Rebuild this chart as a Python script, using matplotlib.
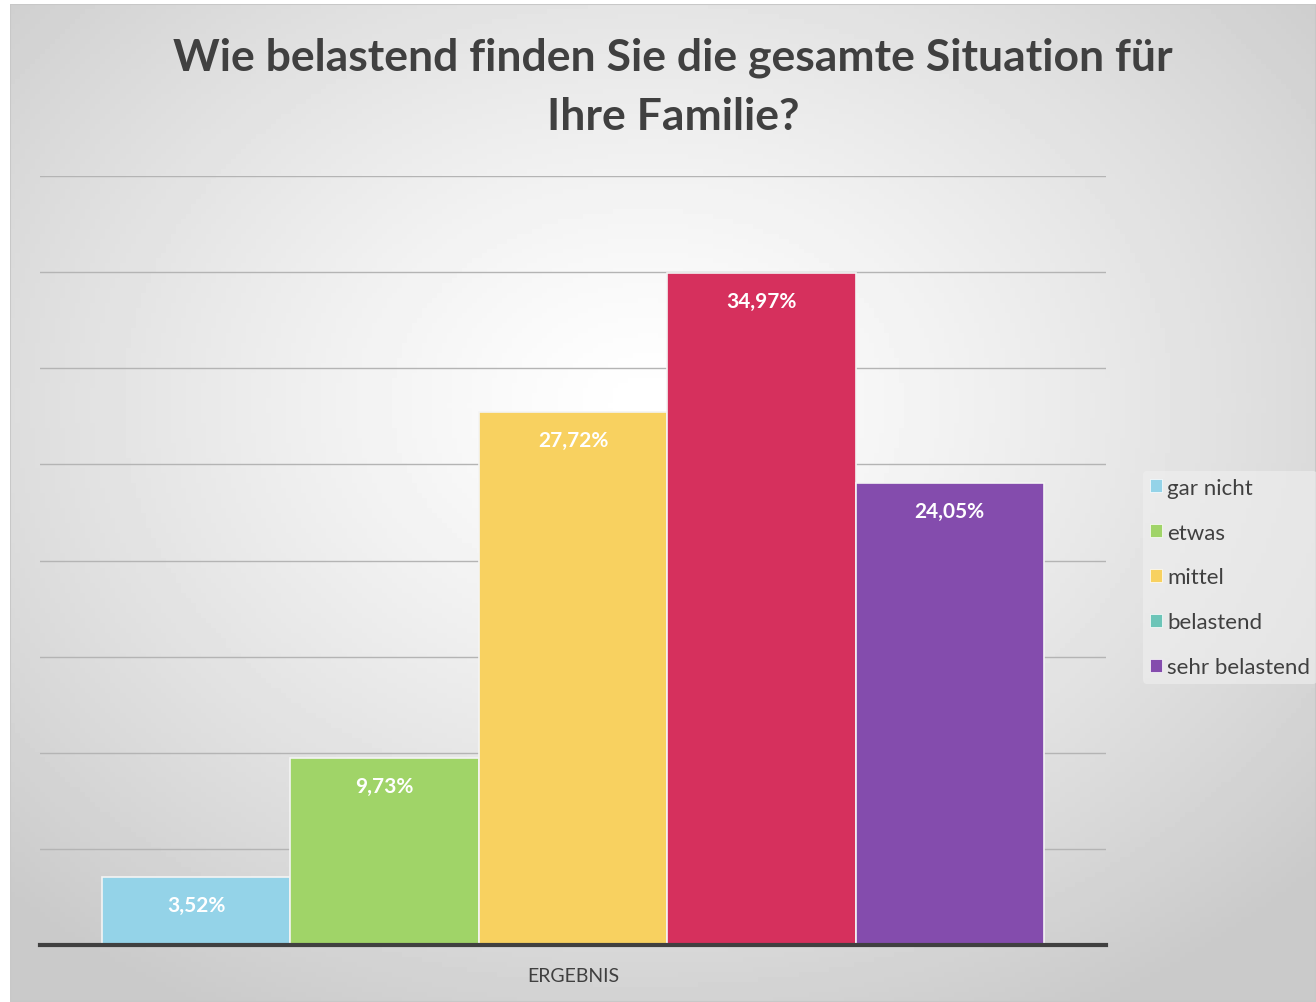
import numpy as np
import matplotlib.pyplot as plt
from matplotlib.patches import Patch, Rectangle

plt.rcParams['font.family'] = ['Lato', 'DejaVu Sans']

categories = ['gar nicht', 'etwas', 'mittel', 'belastend', 'sehr belastend']
values = [3.52, 9.73, 27.72, 34.97, 24.05]
labels = ['3,52%', '9,73%', '27,72%', '34,97%', '24,05%']
bar_colors = ['#94d3e8', '#a0d468', '#f8d160', '#d6305d', '#844cad']
legend_colors = ['#94d3e8', '#a0d468', '#f8d160', '#6cc5b8', '#844cad']

W, H = 1316, 1003
fig = plt.figure(figsize=(W / 100, H / 100), dpi=100)

# radial gradient background for the chart frame
bg = fig.add_axes([10 / W, 0, 1 - 10 / W, 1 - 5 / H])
yy, xx = np.mgrid[0:200, 0:260]
cx, cy = 640 / W * 260, 400 / H * 200
d = np.sqrt(((xx - cx) / 260) ** 2 + ((yy - cy) / 200) ** 2)
shade = np.clip(1.0 - 0.33 * d ** 1.25, 0.79, 1.0)
bg.imshow(shade, cmap='gray', vmin=0, vmax=1, aspect='auto', extent=[0, 1, 1, 0])
bg.add_patch(Rectangle((0, 0), 1, 1, transform=bg.transAxes, fill=False,
                       edgecolor='#c8c8c8', lw=1.5))
bg.set_axis_off()

ax = fig.add_axes([40 / W, 57 / H, 1066 / W, 769 / H])
ax.patch.set_alpha(0)
x = np.arange(len(values))
bars = ax.bar(x, values, width=1.0, color=bar_colors, edgecolor='#f4f4f4',
              linewidth=1.2, zorder=3)
for xi, v, lab in zip(x, values, labels):
    ax.text(xi, v - 1.45, lab, ha='center', va='center', color='white',
            fontsize=15, fontweight='bold', zorder=4)

ax.set_xlim(-0.829, 4.829)
ax.set_ylim(0, 40)
ax.set_yticks(np.arange(5, 41, 5))
ax.yaxis.grid(True, color='#b4b4b4', lw=1.0, zorder=1)
ax.tick_params(left=False, labelleft=False, bottom=False, labelbottom=False)
for s in ['top', 'right', 'left']:
    ax.spines[s].set_visible(False)
ax.spines['bottom'].set_color('#404040')
ax.spines['bottom'].set_linewidth(3)
ax.spines['bottom'].set_zorder(5)

fig.text(573 / W, 1 - 977 / H, 'ERGEBNIS', ha='center', va='center',
         fontsize=14, color='#404040')
fig.text(673 / W, 1 - 58 / H, 'Wie belastend finden Sie die gesamte Situation für',
         ha='center', va='center', fontsize=32, fontweight='bold', color='#404040')
fig.text(673 / W, 1 - 117 / H, 'Ihre Familie?',
         ha='center', va='center', fontsize=32, fontweight='bold', color='#404040')

handles = [Patch(facecolor=c, edgecolor='white', lw=0.5) for c in legend_colors]
leg = fig.legend(handles, categories, loc='upper left',
                 bbox_to_anchor=(1143 / W, 1 - 472 / H), frameon=True,
                 fontsize=16, handlelength=0.55, handleheight=0.55,
                 handletextpad=0.25, labelspacing=1.12, borderpad=0.3,
                 borderaxespad=0, labelcolor='#404040')
leg.get_frame().set_facecolor('#f0f0f0')
leg.get_frame().set_edgecolor('none')
leg.get_frame().set_alpha(0.6)

fig.savefig('out.png', dpi=100)
plt.close(fig)
